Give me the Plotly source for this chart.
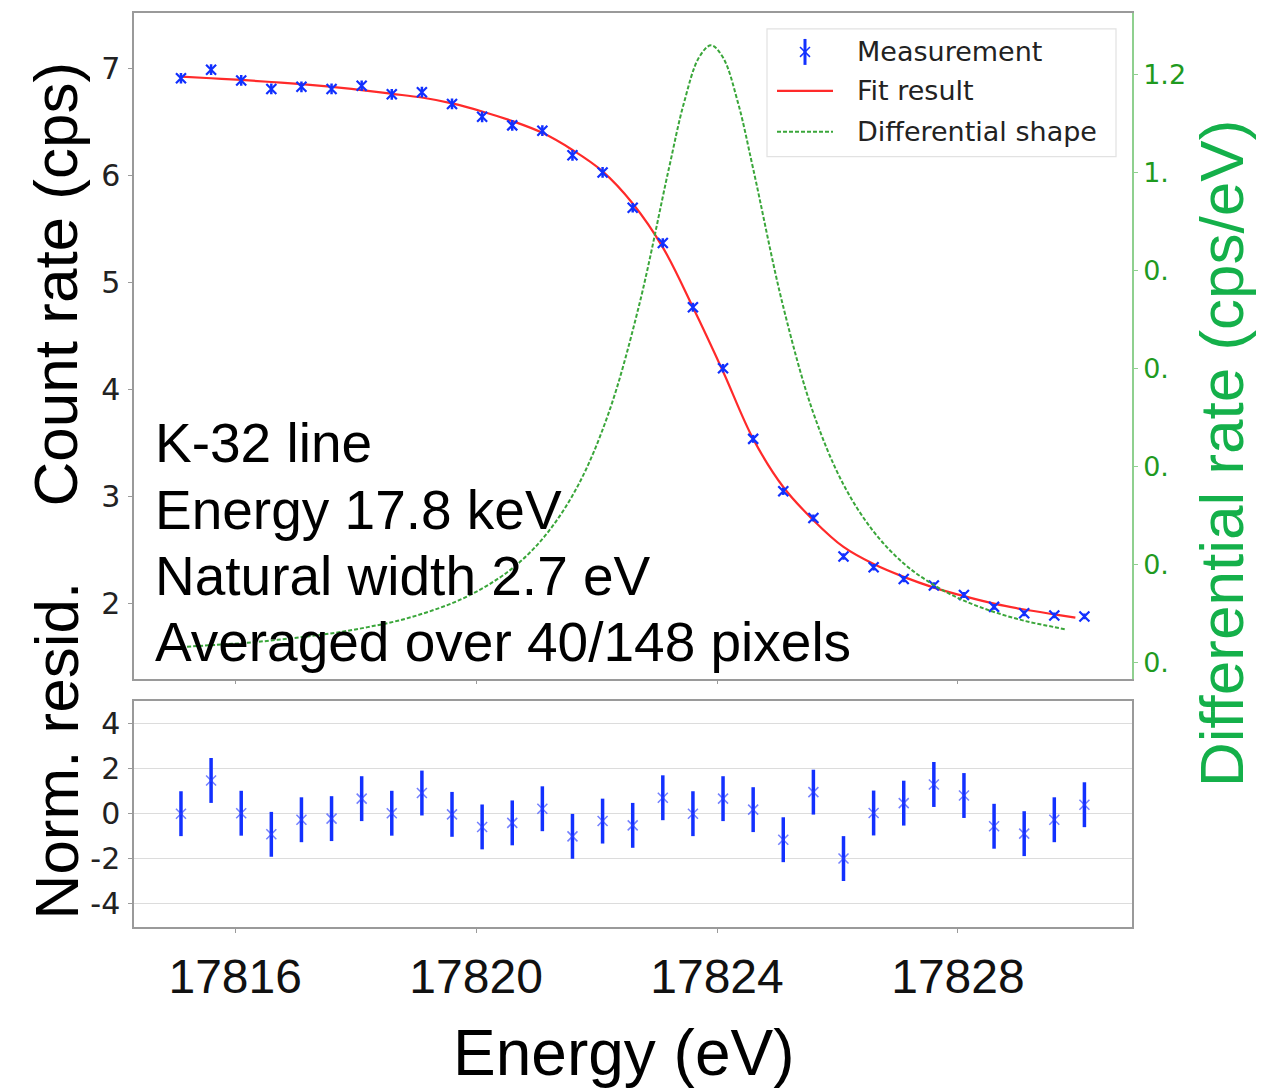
import plotly.graph_objects as go

# ---- measured count rate across the K-32 line ----
energy = [17815.1, 17815.6, 17816.1, 17816.6, 17817.1, 17817.6, 17818.1, 17818.6,
          17819.1, 17819.6, 17820.1, 17820.6, 17821.1, 17821.6, 17822.1, 17822.6,
          17823.1, 17823.6, 17824.1, 17824.6, 17825.1, 17825.6, 17826.1, 17826.6,
          17827.1, 17827.6, 17828.1, 17828.6, 17829.1, 17829.6, 17830.1]
count_rate = [6.91, 6.99, 6.89, 6.81, 6.83, 6.81, 6.84, 6.76, 6.78, 6.67, 6.55,
              6.47, 6.42, 6.19, 6.03, 5.70, 5.37, 4.77, 4.20, 3.54, 3.05, 2.80,
              2.44, 2.34, 2.23, 2.17, 2.08, 1.97, 1.91, 1.89, 1.88]
count_err = [0.05, 0.05, 0.05, 0.05, 0.05, 0.05, 0.05, 0.05, 0.05, 0.05, 0.05,
             0.05, 0.05, 0.05, 0.05, 0.045, 0.045, 0.042, 0.040, 0.037, 0.034, 0.033,
             0.030, 0.030, 0.029, 0.029, 0.028, 0.027, 0.027, 0.027, 0.027]

# ---- normalised residuals ----
residual = [0.0, 1.48, 0.02, -0.92, -0.27, -0.22, 0.67, 0.02, 0.92, -0.03, -0.59,
            -0.41, 0.22, -1.01, -0.33, -0.52, 0.71, 0.0, 0.67, 0.18, -1.16, 0.96,
            -2.0, 0.03, 0.47, 1.30, 0.81, -0.56, -0.89, -0.27, 0.40]
residual_err = [1.0, 1.0, 1.0, 1.0, 1.0, 1.0, 1.0, 1.0, 1.0, 1.0, 1.0,
                1.0, 1.0, 1.0, 1.0, 1.0, 1.0, 1.0, 1.0, 1.0, 1.0, 1.0,
                1.0, 1.0, 1.0, 1.0, 1.0, 1.0, 1.0, 1.0, 1.0]

# ---- fitted step curve ----
fit_energy = [17815.1, 17815.6, 17816.1, 17816.6, 17817.1, 17817.6, 17818.1, 17818.6,
              17819.1, 17819.6, 17820.1, 17820.6, 17821.1, 17821.6, 17822.1, 17822.6,
              17823.1, 17823.6, 17824.1, 17824.6, 17825.1, 17825.6, 17826.1, 17826.6,
              17827.1, 17827.6, 17828.1, 17828.6, 17829.1, 17829.6, 17829.95]
fit_rate = [6.925, 6.91, 6.895, 6.875, 6.855, 6.83, 6.80, 6.765, 6.73, 6.675, 6.60,
            6.51, 6.40, 6.24, 6.04, 5.74, 5.33, 4.77, 4.17, 3.54, 3.09, 2.78,
            2.53, 2.37, 2.25, 2.15, 2.07, 2.00, 1.945, 1.90, 1.87]

# ---- differential line shape (right axis) ----
diff_energy = [17815.2, 17815.7, 17816.2, 17816.7, 17817.2, 17817.7, 17818.2, 17818.7,
               17819.2, 17819.7, 17820.2, 17820.7, 17821.2, 17821.7, 17822.2, 17822.7,
               17823.2, 17823.45, 17823.7, 17823.9, 17824.1, 17824.35, 17824.6,
               17825.1, 17825.6, 17826.1, 17826.6, 17827.1, 17827.6, 17828.1,
               17828.6, 17829.1, 17829.6, 17829.8]
diff_rate = [0.032, 0.036, 0.040, 0.046, 0.053, 0.061, 0.072, 0.085, 0.103, 0.126,
             0.158, 0.202, 0.267, 0.363, 0.509, 0.726, 1.008, 1.142, 1.235, 1.260,
             1.235, 1.142, 1.008, 0.726, 0.509, 0.363, 0.267, 0.202, 0.158, 0.126,
             0.103, 0.085, 0.072, 0.067]

energy_ticks = [17816, 17820, 17824, 17828]
energy_tick_text = ["17816", "17820", "17824", "17828"]
count_ticks = [2, 3, 4, 5, 6, 7]
diff_ticks = [0.0, 0.2, 0.4, 0.6, 0.8, 1.0, 1.2]
diff_tick_text = ["0.", "0.", "0.", "0.", "0.", "1.", "1.2"]
resid_ticks = [-4, -2, 0, 2, 4]
resid_tick_text = ["-4", "-2", "0", "2", "4"]
info_lines = ["K-32 line", "Energy 17.8 keV", "Natural width 2.7 eV",
              "Averaged over 40/148 pixels"]
legend_labels = ["Measurement", "Fit result", "Differential shape"]

# ---- geometry helpers (pixel -> paper) ----
W, H = 1272, 1090
ML, MR, MT, MB = 134, 140, 11, 163
PW, PH = W - ML - MR, H - MT - MB


def px(x):
    return (x - ML) / PW


def py(y):
    return (H - MB - y) / PH


SANS = "Liberation Sans, Arial, sans-serif"
DEJAVU = "DejaVu Sans, sans-serif"
FRAME = "#9a9a9a"
BLUE = "#1230ff"
RED = "#ff2a2a"
GREEN_LINE = "#3aa63a"
GREEN_TXT = "#1f9a1f"
GREEN_TITLE = "#14b04a"

x_range = [17814.32, 17830.89]

fig = go.Figure()

fig.add_trace(go.Scatter(
    x=fit_energy, y=fit_rate, mode="lines", line=dict(color=RED, width=2.2, shape="spline"),
    xaxis="x", yaxis="y", showlegend=False, name=legend_labels[1]))

fig.add_trace(go.Scatter(
    x=energy, y=count_rate, mode="markers",
    marker=dict(symbol="x-thin", size=10, line=dict(color=BLUE, width=2.2), color=BLUE),
    error_y=dict(type="data", array=count_err, visible=True, color=BLUE,
                 thickness=2.5, width=0),
    xaxis="x", yaxis="y", showlegend=False, name=legend_labels[0]))

fig.add_trace(go.Scatter(
    x=diff_energy, y=diff_rate, mode="lines",
    line=dict(color=GREEN_LINE, width=2, dash="4px,2px", shape="spline"),
    xaxis="x", yaxis="y2", showlegend=False, name=legend_labels[2]))

fig.add_trace(go.Scatter(
    x=energy, y=residual, mode="markers",
    marker=dict(symbol="x-thin", size=10, line=dict(color="rgba(40,60,255,0.65)", width=1.5)),
    error_y=dict(type="data", array=residual_err, visible=True, color=BLUE,
                 thickness=3.5, width=0),
    xaxis="x2", yaxis="y3", showlegend=False))

main_bottom = py(678)
resid_top = py(701)

axis_common = dict(showline=True, linecolor=FRAME, linewidth=1.5, ticks="outside",
                   ticklen=4, tickcolor=FRAME, showgrid=False, zeroline=False)

fig.update_layout(
    width=W, height=H,
    margin=dict(l=ML, r=MR, t=MT, b=MB),
    paper_bgcolor="white", plot_bgcolor="white",
    xaxis=dict(domain=[0, 1], anchor="y", range=x_range, mirror=True,
               tickvals=energy_ticks, showticklabels=False, **axis_common),
    yaxis=dict(domain=[main_bottom, 1], anchor="x", range=[1.30, 7.52],
               tickvals=count_ticks, ticklabelstandoff=2,
               tickfont=dict(family=DEJAVU, size=30, color="#222"),
               **axis_common),
    yaxis2=dict(overlaying="y", side="right", anchor="x", range=[-0.033, 1.326],
                showline=True, linecolor="#8fd08f", linewidth=1.5, ticks="outside",
                ticklen=4, tickcolor="#8fd08f", showgrid=False, zeroline=False,
                tickvals=diff_ticks, ticktext=diff_tick_text,
                tickfont=dict(family=DEJAVU, size=27, color=GREEN_TXT)),
    xaxis2=dict(domain=[0, 1], anchor="y3", range=x_range, mirror=True,
                tickvals=energy_ticks, ticktext=energy_tick_text, ticklabelstandoff=3,
                tickfont=dict(family=SANS, size=48, color="#111"), **axis_common),
    yaxis3=dict(domain=[0, resid_top], anchor="x2", range=[-5.05, 5.0], mirror=True,
                tickvals=resid_ticks, ticktext=resid_tick_text, ticklabelstandoff=2,
                tickfont=dict(family=DEJAVU, size=30, color="#222"),
                showline=True, linecolor=FRAME, linewidth=1.5, ticks="outside",
                ticklen=4, tickcolor=FRAME, showgrid=True, gridcolor="#dcdcdc",
                gridwidth=1.2, zeroline=False),
)

annotations = []
# info text block inside the main panel
for text, yc in zip(info_lines, [442, 509, 575, 641]):
    annotations.append(dict(x=px(153), y=py(yc), xref="paper", yref="paper", text=text,
                            showarrow=False, xanchor="left", yanchor="middle",
                            font=dict(family=SANS, size=55, color="black")))

# axis titles
annotations += [
    dict(x=px(55), y=py(283), xref="paper", yref="paper", text="Count rate (cps)",
         textangle=-90, showarrow=False, xanchor="center", yanchor="middle",
         font=dict(family=SANS, size=62, color="black")),
    dict(x=px(56), y=py(750), xref="paper", yref="paper", text="Norm. resid.",
         textangle=-90, showarrow=False, xanchor="center", yanchor="middle",
         font=dict(family=SANS, size=62, color="black")),
    dict(x=px(1221), y=py(453), xref="paper", yref="paper",
         text="Differential rate (cps/eV)", textangle=-90, showarrow=False,
         xanchor="center", yanchor="middle",
         font=dict(family=SANS, size=62, color=GREEN_TITLE)),
    dict(x=px(623), y=py(1053), xref="paper", yref="paper", text="Energy (eV)",
         showarrow=False, xanchor="center", yanchor="middle",
         font=dict(family=SANS, size=64, color="black")),
]

# legend entries
for text, yc in zip(legend_labels, [50, 89, 130]):
    annotations.append(dict(x=px(855), y=py(yc), xref="paper", yref="paper", text=text,
                            showarrow=False, xanchor="left", yanchor="middle",
                            font=dict(family=DEJAVU, size=27, color="#222")))

fig.update_layout(annotations=annotations)

shapes = [
    # legend frame
    dict(type="rect", xref="paper", yref="paper", x0=px(767), x1=px(1116),
         y0=py(155), y1=py(27), line=dict(color="#e2e2e2", width=1.2),
         fillcolor="rgba(255,255,255,0.85)", layer="above"),
    # measurement sample: vertical bar with x marker
    dict(type="line", xref="paper", yref="paper", x0=px(805), x1=px(805),
         y0=py(63), y1=py(37), line=dict(color=BLUE, width=3), layer="above"),
    dict(type="line", xref="paper", yref="paper", x0=px(800), x1=px(810),
         y0=py(45), y1=py(55), line=dict(color=BLUE, width=1.5), layer="above"),
    dict(type="line", xref="paper", yref="paper", x0=px(800), x1=px(810),
         y0=py(55), y1=py(45), line=dict(color=BLUE, width=1.5), layer="above"),
    # fit sample
    dict(type="line", xref="paper", yref="paper", x0=px(777), x1=px(833),
         y0=py(89), y1=py(89), line=dict(color=RED, width=2.2), layer="above"),
    # differential shape sample
    dict(type="line", xref="paper", yref="paper", x0=px(777), x1=px(833),
         y0=py(130), y1=py(130), line=dict(color=GREEN_LINE, width=2, dash="4px,2px"),
         layer="above"),
]
fig.update_layout(shapes=shapes)

fig.write_html("out.html")
